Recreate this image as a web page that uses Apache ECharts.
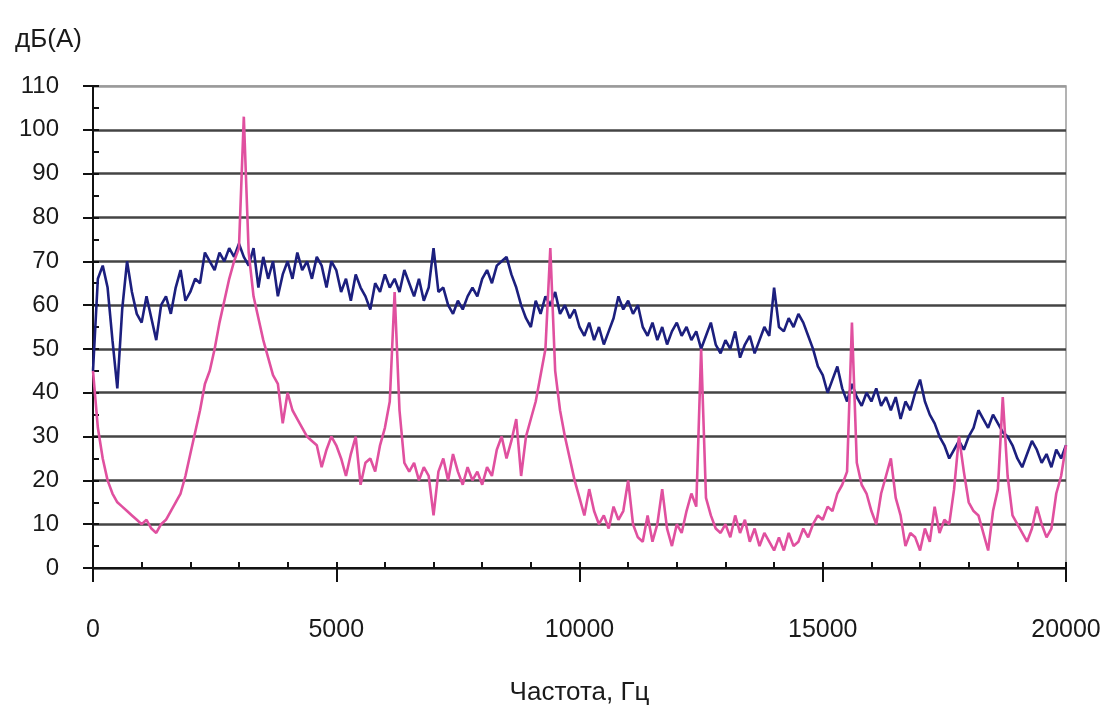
<!DOCTYPE html>
<html>
<head>
<meta charset="utf-8">
<script src="https://cdn.jsdelivr.net/npm/echarts@6/dist/echarts.min.js"></script>
<style>
    html, body { margin: 0; padding: 0; background: #fff; }
    #chart { width: 1104px; height: 711px; }
</style>
</head>
<body>
<div id="chart"></div>
<script>
// spectrum sampled every 100 Hz, 0..20000 Hz
const STEP_HZ = 100;
const yTitle = 'дБ(А)';
const xTitle = 'Частота, Гц';

// dark blue trace
const blueDb = [
    45, 66, 69, 64, 52, 41, 59, 70, 63, 58,
    56, 62, 57, 52, 60, 62, 58, 64, 68, 61,
    63, 66, 65, 72, 70, 68, 72, 70, 73, 71,
    74, 71, 69, 73, 64, 71, 66, 70, 62, 67,
    70, 66, 72, 68, 70, 66, 71, 69, 64, 70,
    68, 63, 66, 61, 67, 64, 62, 59, 65, 63,
    67, 64, 66, 63, 68, 65, 62, 66, 61, 64,
    73, 63, 64, 60, 58, 61, 59, 62, 64, 62,
    66, 68, 65, 69, 70, 71, 67, 64, 60, 57,
    55, 61, 58, 62, 60, 63, 58, 60, 57, 59,
    55, 53, 56, 52, 55, 51, 54, 57, 62, 59,
    61, 58, 60, 55, 53, 56, 52, 55, 51, 54,
    56, 53, 55, 52, 54, 50, 53, 56, 51, 49,
    52, 50, 54, 48, 51, 53, 49, 52, 55, 53,
    64, 55, 54, 57, 55, 58, 56, 53, 50, 46,
    44, 40, 43, 46, 41, 38, 42, 39, 37, 40,
    38, 41, 37, 39, 36, 39, 34, 38, 36, 40,
    43, 38, 35, 33, 30, 28, 25, 27, 29, 27,
    30, 32, 36, 34, 32, 35, 33, 31, 30, 28,
    25, 23, 26, 29, 27, 24, 26, 23, 27, 25, 28,
];

// pink trace
const pinkDb = [
    45, 32, 25, 20, 17, 15, 14, 13, 12, 11,
    10, 11, 9, 8, 10, 11, 13, 15, 17, 21,
    26, 31, 36, 42, 45, 50, 56, 61, 66, 70,
    73, 103, 72, 62, 57, 52, 48, 44, 42, 33,
    40, 36, 34, 32, 30, 29, 28, 23, 27, 30,
    28, 25, 21, 26, 30, 19, 24, 25, 22, 28,
    32, 38, 63, 36, 24, 22, 24, 20, 23, 21,
    12, 22, 25, 20, 26, 22, 19, 23, 20, 22,
    19, 23, 21, 27, 30, 25, 29, 34, 21, 30,
    34, 38, 44, 50, 73, 45, 36, 30, 25, 20,
    16, 12, 18, 13, 10, 12, 9, 14, 11, 13,
    20, 10, 7, 6, 12, 6, 10, 18, 9, 5,
    10, 8, 13, 17, 14, 50, 16, 12, 9, 8,
    10, 7, 12, 8, 11, 6, 9, 5, 8, 6,
    4, 7, 4, 8, 5, 6, 9, 7, 10, 12,
    11, 14, 13, 17, 19, 22, 56, 24, 19, 17,
    13, 10, 17, 21, 25, 16, 12, 5, 8, 7,
    4, 9, 6, 14, 8, 11, 10, 18, 30, 22,
    15, 13, 12, 8, 4, 13, 18, 39, 21, 12,
    10, 8, 6, 9, 14, 10, 7, 9, 17, 21, 28,
];

const FONT = "'Liberation Sans', Arial, sans-serif";
const TEXT = '#1a1a1a';

const toPairs = (vals) => vals.map((v, i) => [i * STEP_HZ, v]);

const gridColors = new Array(11).fill('#444').concat(['#9a9a9a']);

const chart = echarts.init(document.getElementById('chart'));
chart.setOption({
    backgroundColor: '#fff',
    animation: false,
    title: {
        text: yTitle,
        left: 10,
        top: 22,
        textStyle: { fontFamily: FONT, fontSize: 26, fontWeight: 'normal', color: TEXT },
    },
    grid: {
        left: 93, right: 38, top: 86, bottom: 138,
        show: true, borderColor: '#9a9a9a', borderWidth: 1.5,
    },
    xAxis: [
        {
            type: 'value', min: 0, max: 20000, interval: 5000,
            name: xTitle, nameLocation: 'middle', nameGap: 112,
            nameTextStyle: { fontFamily: FONT, fontSize: 26, color: TEXT },
            axisLine: { lineStyle: { color: '#111', width: 2 } },
            axisTick: { length: 14, lineStyle: { color: '#111', width: 2 } },
            axisLabel: {
                fontFamily: FONT, fontSize: 25, color: TEXT, margin: 50,
                formatter: (v) => String(v),
            },
            splitLine: { show: false },
        },
        {
            // inner minor ticks every 1000 Hz
            type: 'value', min: 0, max: 20000, interval: 1000, position: 'bottom',
            axisLine: { show: false },
            axisTick: { inside: true, length: 6, lineStyle: { color: '#111', width: 2 } },
            axisLabel: { show: false },
            splitLine: { show: false },
        },
    ],
    yAxis: [
        {
            type: 'value', min: 0, max: 110, interval: 10,
            axisLine: { show: true, lineStyle: { color: '#111', width: 2 } },
            axisTick: { show: true, length: 10, lineStyle: { color: '#111', width: 2 } },
            axisLabel: { fontFamily: FONT, fontSize: 24, color: TEXT, margin: 34 },
            splitLine: { show: true, lineStyle: { color: gridColors, width: 2.5 } },
        },
        {
            // inner minor ticks every 5 dB
            type: 'value', min: 0, max: 110, interval: 5, position: 'left',
            axisLine: { show: false },
            axisTick: { show: true, inside: true, length: 6, lineStyle: { color: '#111', width: 2 } },
            axisLabel: { show: false },
            splitLine: { show: false },
        },
    ],
    series: [
        {
            name: 'blue', type: 'line', xAxisIndex: 0, yAxisIndex: 0,
            data: toPairs(blueDb), showSymbol: false, symbol: 'none',
            lineStyle: { color: '#1c1f7e', width: 2.6 },
            z: 3,
        },
        {
            name: 'pink', type: 'line', xAxisIndex: 0, yAxisIndex: 0,
            data: toPairs(pinkDb), showSymbol: false, symbol: 'none',
            lineStyle: { color: '#e0509f', width: 2.6 },
            z: 4,
        },
    ],
});
</script>
</body>
</html>
